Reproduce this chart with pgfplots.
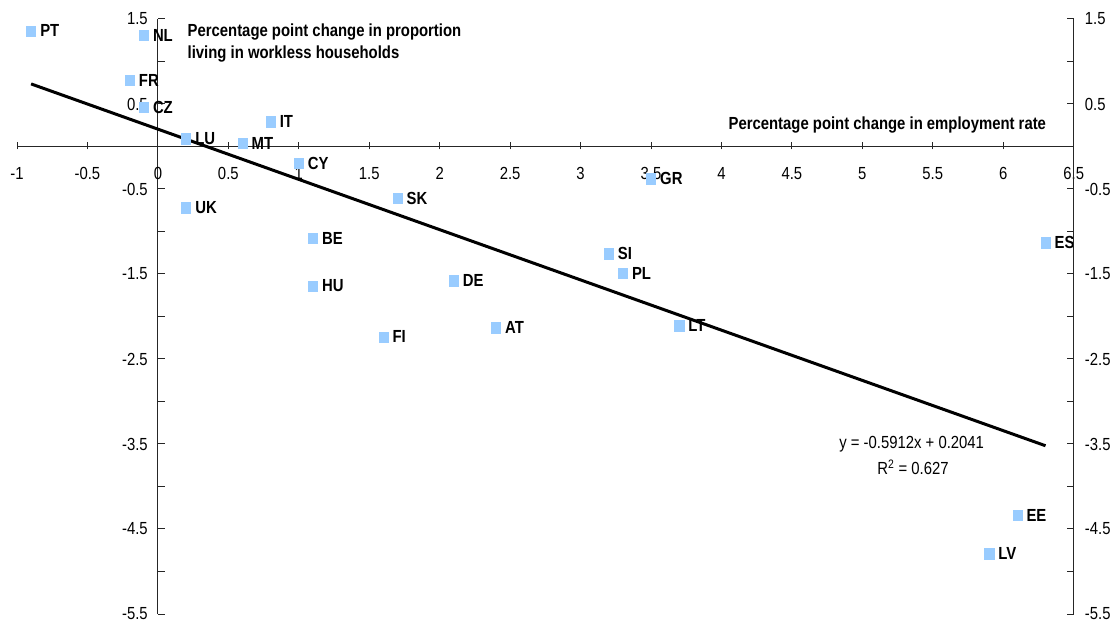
\documentclass[border=0pt]{standalone}
\usepackage{fontspec}
\setmainfont{Liberation Sans}[FakeStretch=0.85]
\usepackage{pgfplots}
\pgfplotsset{compat=1.18}
\usepackage{pgfplotstable}
\definecolor{mk}{RGB}{153,204,255}

\pgfplotstableread{
x y label
-0.9 1.36 PT
-0.1 1.31 NL
-0.2 0.78 FR
-0.1 0.46 CZ
0.2 0.09 LU
0.6 0.04 MT
0.8 0.29 IT
1.0 -0.20 CY
1.7 -0.61 SK
0.2 -0.72 UK
1.1 -1.08 BE
1.1 -1.64 HU
2.1 -1.58 DE
1.6 -2.24 FI
2.4 -2.13 AT
3.5 -0.38 GR
3.2 -1.26 SI
3.3 -1.49 PL
3.7 -2.11 LT
6.3 -1.13 ES
6.1 -4.34 EE
5.9 -4.79 LV
}\data

\pgfplotsset{
  common/.style={
    at={(17bp,8bp)}, anchor=south west,
    scale only axis, width=1056.75bp, height=595bp,
    xmin=-1, xmax=6.5, ymin=-5.5, ymax=1.5,
    axis line style={black!85, line width=1bp},
    tick style={black!85, line width=1bp},
    major tick length=7bp, minor tick length=7bp,
    ytick={-5.5,-4.5,-3.5,-2.5,-1.5,-0.5,0.5,1.5},
    yticklabels={-5.5,-4.5,-3.5,-2.5,-1.5,-0.5,0.5,1.5},
    minor ytick={-5,-4,-3,-2,-1,0,1},
    clip=false,
  }
}

\begin{document}
\fontsize{17.5bp}{22bp}\selectfont
\begin{tikzpicture}
\begin{axis}[common,
  axis x line*=middle, axis y line*=middle,
  hide obscured x ticks=false, hide obscured y ticks=false,
  xtick={-1,-0.5,0,0.5,1,1.5,2,2.5,3,3.5,4,4.5,5,5.5,6,6.5},
  xticklabels={-1,-0.5,0,0.5,1,1.5,2,2.5,3,3.5,4,4.5,5,5.5,6,6.5},
  xtick style={yshift=-3bp},
  xticklabel style={anchor=center, inner sep=0pt, yshift=-27bp},
  yticklabel style={anchor=east, inner sep=0pt, xshift=-10bp},
]
\addplot[only marks, mark=square*, mark size=4.6bp, color=mk,
  mark options={fill=mk, draw=none, yscale=1.12},
  point meta=explicit symbolic, nodes near coords,
  every node near coord/.append style={anchor=west, xshift=9bp, inner sep=0pt, text=black, font=\bfseries}]
  table[x=x, y=y, meta=label] {\data};
\addplot[black, line width=3bp] coordinates {(-0.9,0.7362) (6.3,-3.5205)};
\node[anchor=base west, font=\bfseries, inner sep=0pt] at (axis cs:0.21,1.299) {Percentage point change in proportion};
\node[anchor=base west, font=\bfseries, inner sep=0pt] at (axis cs:0.21,1.04) {living in workless households};
\node[anchor=base east, font=\bfseries, inner sep=0pt] at (axis cs:6.305,0.2) {Percentage point change in employment rate};
\node[anchor=base, inner sep=0pt] at (axis cs:5.35,-3.548) {y = -0.5912x + 0.2041};
\node[anchor=base, inner sep=0pt] at (axis cs:5.36,-3.859) {R\textsuperscript{2} = 0.627};
\end{axis}
\begin{axis}[common,
  axis x line=none, axis y line*=right,
  yticklabel style={anchor=west, inner sep=0pt, xshift=11bp},
]
\end{axis}
\pgfresetboundingbox
\useasboundingbox (0,0) rectangle (1118bp,622bp);
\end{tikzpicture}
\end{document}
